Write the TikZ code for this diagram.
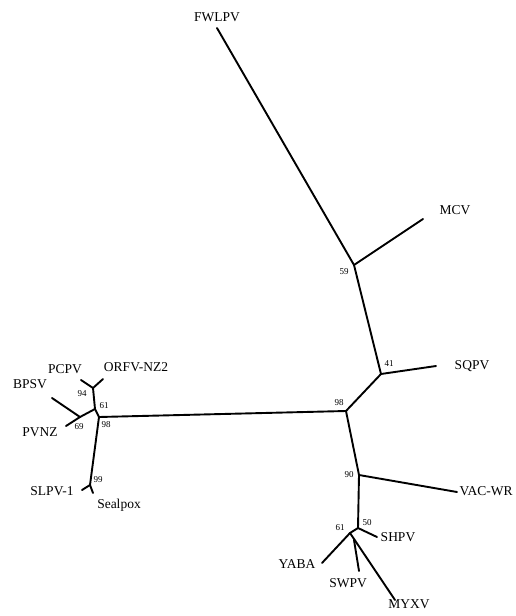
\documentclass[tikz,border=0pt]{standalone}
\usepackage{fontspec}
\setmainfont{Liberation Serif}
\begin{document}
\begin{tikzpicture}[x=1pt,y=-1pt,
  br/.style={line width=1.9pt, line cap=round, line join=round},
  lab/.style={font=\fontsize{13.5}{13.5}\selectfont, inner sep=0pt},
  bs/.style={font=\fontsize{9}{9}\selectfont, inner sep=0pt}]
\useasboundingbox (0,0) rectangle (516,616);
% internal nodes
\coordinate (n59) at (354,265);
\coordinate (n41) at (381,374);
\coordinate (n98R) at (346,411);
\coordinate (n90) at (359,475);
\coordinate (n50) at (358,528);
\coordinate (n61R) at (350,533);
\coordinate (swj) at (354,540);
\coordinate (n98L) at (99,417);
\coordinate (n61L) at (95,409);
\coordinate (n94) at (93,388);
\coordinate (n69) at (80,417);
\coordinate (n99) at (90,485);
% tips
\coordinate (fw) at (217,28);
\coordinate (mcv) at (423,219);
\coordinate (sq) at (436,366);
\coordinate (vac) at (457,492);
\coordinate (shpv) at (377,537);
\coordinate (yaba) at (322,563);
\coordinate (swpv) at (359,571);
\coordinate (myxv) at (395,600);
\coordinate (pcpv) at (81,380);
\coordinate (orfv) at (103,379);
\coordinate (bpsv) at (52,398);
\coordinate (pvnz) at (66,426);
\coordinate (slpv) at (82,490);
\coordinate (seal) at (93,493);
% branches
\draw[br] (fw) -- (n59) -- (n41) -- (n98R) -- (n90) -- (n50) -- (n61R);
\draw[br] (n59) -- (mcv);
\draw[br] (n41) -- (sq);
\draw[br] (n90) -- (vac);
\draw[br] (n50) -- (shpv);
\draw[br] (n61R) -- (yaba);
\draw[br] (n61R) -- (myxv);
\draw[br] (swj) -- (swpv);
\draw[br] (n98R) -- (n98L);
\draw[br] (n98L) -- (n61L) -- (n94);
\draw[br] (n94) -- (pcpv);
\draw[br] (n94) -- (orfv);
\draw[br] (n61L) -- (n69);
\draw[br] (n69) -- (bpsv);
\draw[br] (n69) -- (pvnz);
\draw[br] (n98L) -- (n99);
\draw[br] (n99) -- (slpv);
\draw[br] (n99) -- (seal);
% leaf labels
\node[lab] (lfw) at (217,17) {FWLPV};
\node[lab] (lmcv) at (455,210) {MCV};
\node[lab] (lsq) at (472,366) {SQPV};
\node[lab] (lvac) at (486,491) {VAC-WR};
\node[lab] (lshpv) at (398,537) {SHPV};
\node[lab] (lyaba) at (297,564) {YABA};
\node[lab] (lswpv) at (348,583) {SWPV};
\node[lab] (lmyxv) at (409,604) {MYXV};
\node[lab] (lpcpv) at (65,369) {PCPV};
\node[lab] (lorfv) at (136,367) {ORFV-NZ2};
\node[lab] (lbpsv) at (30,384) {BPSV};
\node[lab] (lpvnz) at (40,432) {PVNZ};
\node[lab] (lslpv) at (52,491) {SLPV-1};
\node[lab] (lseal) at (119,505) {Sealpox};
% bootstrap values
\node[bs] (b59) at (344,272) {59};
\node[bs] (b41) at (389,364) {41};
\node[bs] (b98R) at (339,403) {98};
\node[bs] (b90) at (349,475) {90};
\node[bs] (b50) at (367,523) {50};
\node[bs] (b61R) at (340,528) {61};
\node[bs] (b94) at (82,394) {94};
\node[bs] (b61L) at (104,406) {61};
\node[bs] (b69) at (79,427) {69};
\node[bs] (b98L) at (106,425) {98};
\node[bs] (b99) at (98,480) {99};
\end{tikzpicture}
\end{document}
